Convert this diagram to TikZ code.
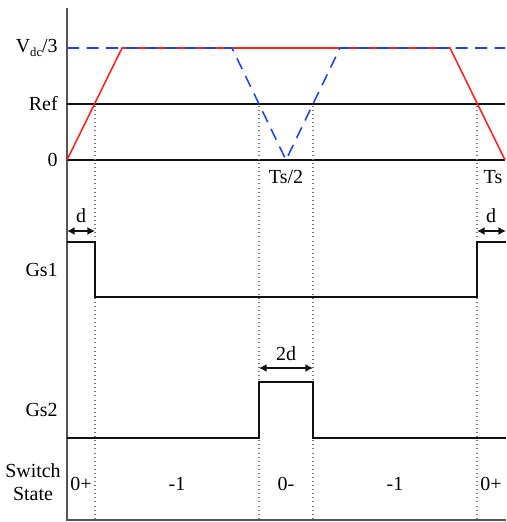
\documentclass[tikz,border=0pt]{standalone}
\usepackage{fontspec}
\setmainfont{Liberation Serif}
\usetikzlibrary{arrows.meta}
\definecolor{ink}{HTML}{111111}
\definecolor{axisgrey}{HTML}{555555}
\definecolor{carrier}{HTML}{FF2020}
\definecolor{refblue}{HTML}{2040F0}
\definecolor{dotgrey}{HTML}{777777}
\newcommand{\lbl}{\fontsize{14.2}{16}\selectfont}

\begin{document}
\begin{tikzpicture}[x=0.25mm,y=-0.25mm,font=\lbl,
  sig/.style={ink,line width=1.5pt},
  level/.style={ink,line width=0.9pt},
  guide/.style={dotgrey,line width=0.8pt,dash pattern=on 0.7pt off 2.2pt},
  span/.style={ink,line width=1pt,{Latex[length=1.9mm,width=2mm]}-{Latex[length=1.9mm,width=2mm]}},
  ylbl/.style={anchor=east,inner sep=0}]
\useasboundingbox (0,0) rectangle (506,522);
% levels and axes
\coordinate (ytop) at (67,8);
\coordinate (corner) at (67,520);
\coordinate (xend) at (506,520);
\draw[axisgrey,line width=0.9pt] (ytop) -- (corner) -- (xend);
\coordinate (refL) at (67,104);
\coordinate (refR) at (505,104);
\coordinate (zeroL) at (67,160);
\coordinate (zeroR) at (505,160);
\draw[level] (refL) -- (refR);
\draw[level] (zeroL) -- (zeroR);
\node[ylbl] (vlbl) at (58,48) {V\raisebox{-0.4ex}{\fontsize{9}{10}\selectfont dc}/3};
\node[ylbl] (reflbl) at (58,104) {Ref};
\node[ylbl] (zerolbl) at (58,160) {0};
\node[inner sep=0] (half) at (286,177) {Ts/2};
\node[inner sep=0] (full) at (493,177) {Ts};
% dotted switching instants
\foreach \name/\x in {ta/95,tb/259,tc/313,td/477}{
  \coordinate (\name) at (\x,106);
  \coordinate (\name-b) at (\x,520);
  \draw[guide] (\name) -- (\name-b);
}
% carrier (red) and reference (blue)
\coordinate (c0) at (67,160);
\coordinate (c1) at (122,48);
\coordinate (c2) at (450,48);
\coordinate (c3) at (505,160);
\draw[carrier,line width=1.1pt] (c0) -- (c1) -- (c2) -- (c3);
\coordinate (b0) at (67,48);
\coordinate (b1) at (232,48);
\coordinate (b2) at (286,160);
\coordinate (b3) at (340,48);
\coordinate (b4) at (505,48);
\draw[refblue,line width=1.1pt,dash pattern=on 3mm off 1.9mm] (b0) -- (b1) -- (b2) -- (b3) -- (b4);
% Gs1
\node[ylbl] (gs1) at (58,270) {Gs1};
\draw[sig] (67,242) -- (95,242) -- (95,297) -- (477,297) -- (477,242) -- (506,242);
\coordinate (da) at (67,231);
\coordinate (db) at (95,231);
\draw[span] (da) -- (db);
\node[inner sep=0] (dl) at (81,216) {d};
\coordinate (dc) at (477,231);
\coordinate (dd) at (506,231);
\draw[span] (dc) -- (dd);
\node[inner sep=0] (dr) at (491,216) {d};
% Gs2
\node[ylbl] (gs2) at (58,410) {Gs2};
\draw[sig] (67,438) -- (259,438) -- (259,382) -- (313,382) -- (313,438) -- (506,438);
\coordinate (wa) at (259,368);
\coordinate (wb) at (313,368);
\draw[span] (wa) -- (wb);
\node[inner sep=0] (wl) at (286,354) {2d};
% switch states
\node[ylbl,align=center] (sw) at (61,482) {Switch\\State};
\foreach \name/\x/\s in {s1/81/0+,s2/177/-1,s3/286/0-,s4/395/-1,s5/491/0+}
  \node[inner sep=0] (\name) at (\x,484) {\s};
\end{tikzpicture}
\end{document}
